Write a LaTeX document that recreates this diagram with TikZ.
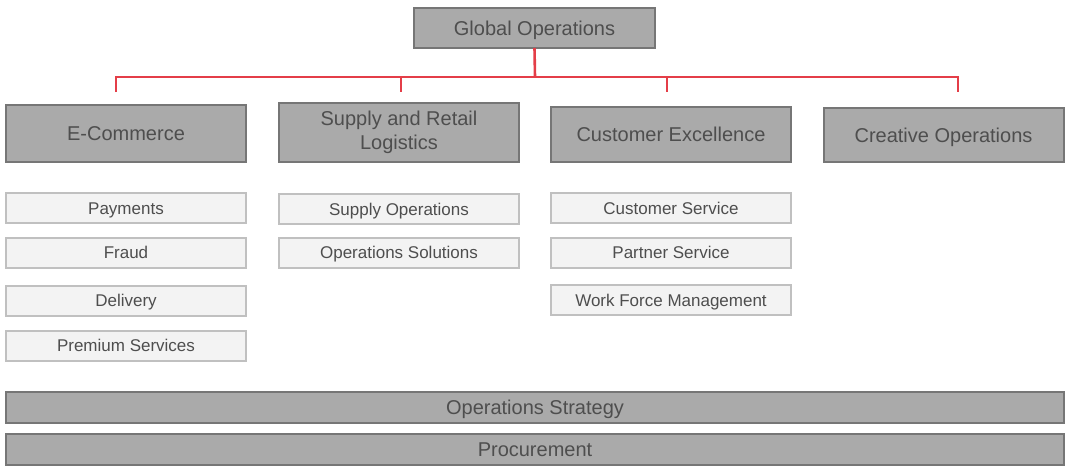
\documentclass[tikz,border=0pt]{standalone}
\usepackage{fontspec}
\setmainfont{Liberation Sans}
\usetikzlibrary{positioning, calc}

\definecolor{headfill}{RGB}{170,170,170}
\definecolor{headdraw}{RGB}{118,118,118}
\definecolor{subfill}{RGB}{243,243,243}
\definecolor{subdraw}{RGB}{192,192,192}
\definecolor{labeltext}{RGB}{78,78,78}
\definecolor{linkred}{RGB}{228,62,72}

\begin{document}
\begin{tikzpicture}[x=1pt, y=-1pt,
		head_box/.style={draw=headdraw, fill=headfill, line width=2pt, inner sep=0pt, outer sep=0pt,
			minimum width=240pt, minimum height=57pt, align=center, text=labeltext,
			font=\fontsize{20}{24}\selectfont},
		one_line/.style={text height=15pt, text depth=1pt},
		sub_box/.style={draw=subdraw, fill=subfill, line width=2pt, inner sep=0pt, outer sep=0pt,
			minimum width=240pt, minimum height=30pt, text=labeltext,
			text height=13pt, text depth=1pt,
			font=\fontsize{17}{19}\selectfont},
		bar_box/.style={head_box, minimum width=1058pt, minimum height=31pt, one_line},
		link/.style={draw=linkred, line width=2.6pt}
		]
		\useasboundingbox (0,0) rectangle (1068,466);
		
		% Top
		\node[head_box, one_line, minimum width=241pt, minimum height=40pt] (go) at (534.5, 28) {Global Operations};
		
		% Departments
		\node[head_box, one_line] (ec) at (126, 133) {E-Commerce};
		\node[head_box, minimum height=59pt] (sr) at (399, 132.5) {Supply and Retail\\Logistics};
		\node[head_box, one_line, minimum height=55pt] (ce) at (671, 134.5) {Customer Excellence};
		\node[head_box, one_line, minimum height=54pt] (co) at (943.5, 135) {Creative Operations};
		
		% Connectors
		\coordinate (bus) at (535, 77);
		\coordinate (d1) at (116, 92);
		\coordinate (d2) at (401, 92);
		\coordinate (d3) at (667, 92);
		\coordinate (d4) at (958, 92);
		\draw[link] (go.south) -- (bus);
		\draw[link] (d1) -- (d1 |- bus) -- (d4 |- bus) -- (d4);
		\draw[link] (d2 |- bus) -- (d2);
		\draw[link] (d3 |- bus) -- (d3);
		
		% E-Commerce teams
		\node[sub_box] (ec1) at (126, 208) {Payments};
		\node[sub_box] (ec2) at (126, 252.5) {Fraud};
		\node[sub_box] (ec3) at (126, 300.5) {Delivery};
		\node[sub_box] (ec4) at (126, 345.5) {Premium Services};
		
		% Supply and Retail teams
		\node[sub_box] (sr1) at (399, 209) {Supply Operations};
		\node[sub_box] (sr2) at (399, 252.5) {Operations Solutions};
		
		% Customer Excellence teams
		\node[sub_box] (ce1) at (671, 208) {Customer Service};
		\node[sub_box] (ce2) at (671, 252.5) {Partner Service};
		\node[sub_box] (ce3) at (671, 300) {Work Force Management};
		
		% Shared functions
		\node[bar_box] (os) at (535, 407.5) {Operations Strategy};
		\node[bar_box] (pr) at (535, 449.5) {Procurement};
		
	\end{tikzpicture}
\end{document}
